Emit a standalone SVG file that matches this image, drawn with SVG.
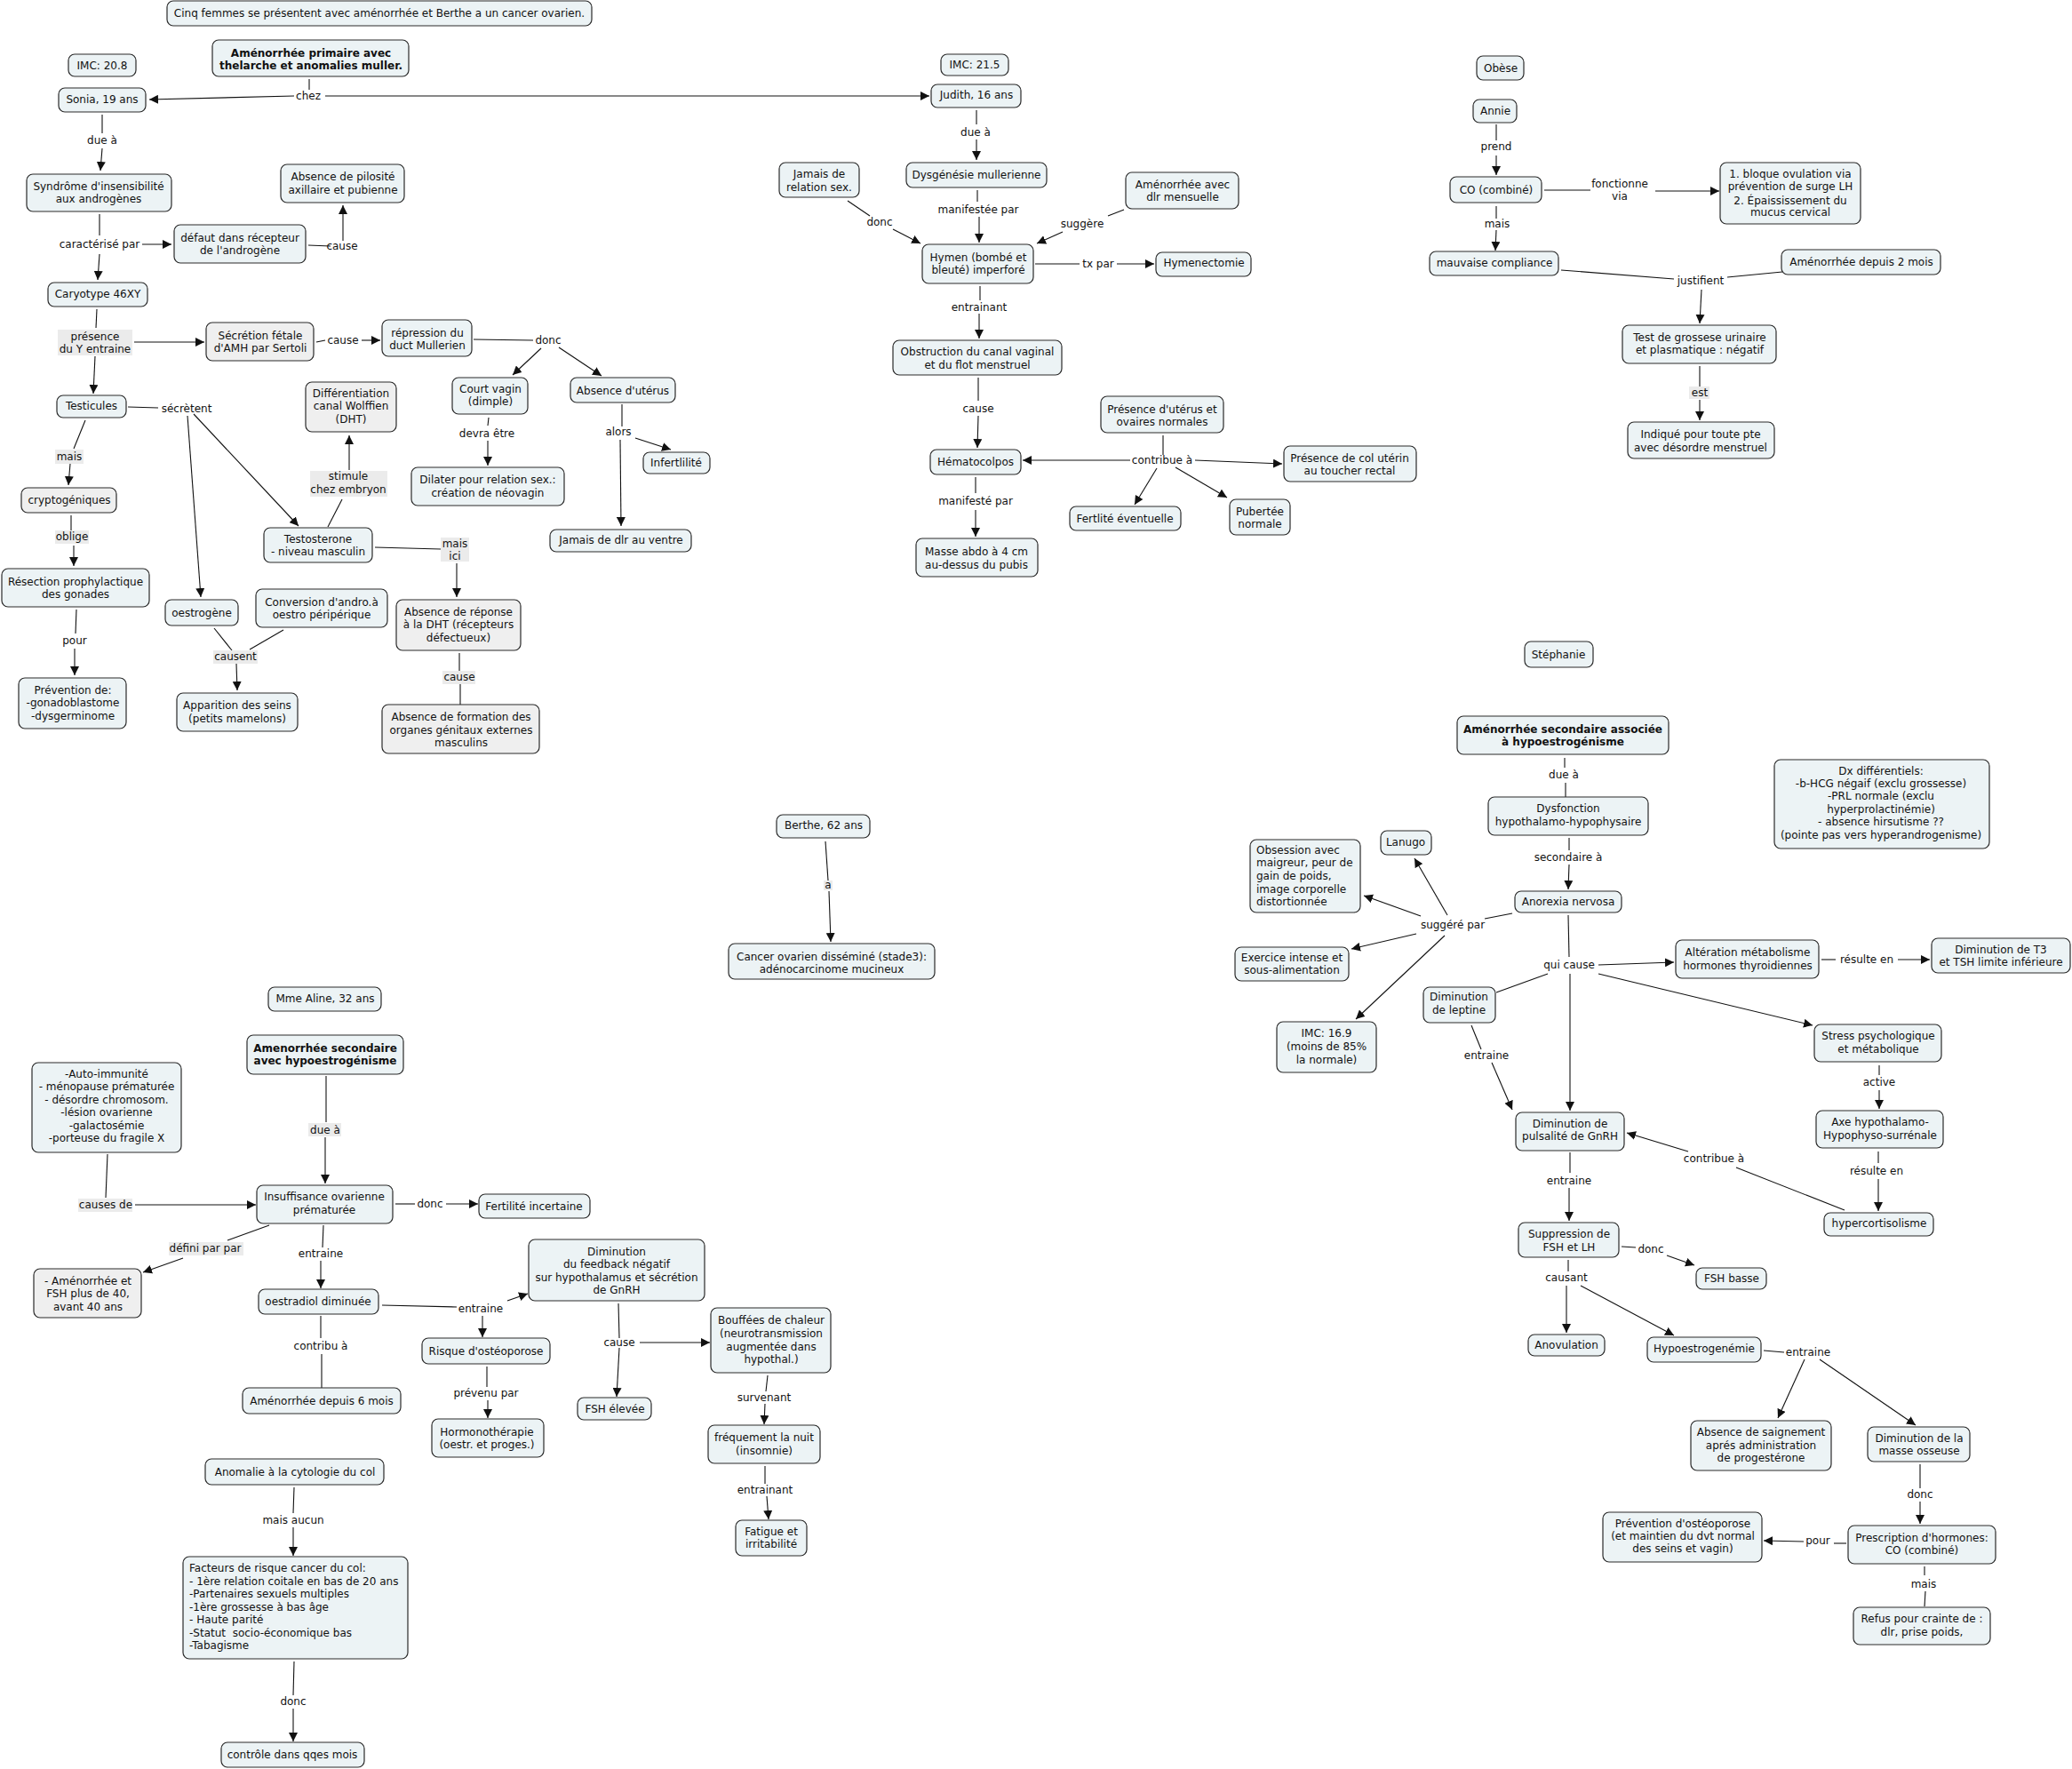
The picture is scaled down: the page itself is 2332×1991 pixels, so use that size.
<svg xmlns="http://www.w3.org/2000/svg" width="2332" height="1991" viewBox="0 0 2332 1991">
<defs>
<marker id="ah" markerUnits="userSpaceOnUse" markerWidth="10" markerHeight="10" viewBox="0 0 10 10" refX="10" refY="5" orient="auto"><path d="M0,0 L10,5 L0,10 z" fill="#111"/></marker>
<style>
.n rect{fill:#ecf3f5;stroke:#2a2a2a;stroke-width:1.2}
.n.g rect{fill:#efefef}
text{font-family:"DejaVu Sans",Verdana,"Liberation Sans",sans-serif;font-size:12px;fill:#111;text-anchor:middle}
.b{font-weight:bold}
.l{text-anchor:start}
.lbg{fill:#ebebeb;stroke:none}
#connectors path{stroke:#111;stroke-width:1.1;fill:none}
#connectors path.a{marker-end:url(#ah)}
</style>
</defs>
<rect width="2332" height="1991" fill="#fff"/>

<g id="connectors">
<path d="M348,89 L348,101"/><path class="a" d="M331,108 L168,112"/><path class="a" d="M366,108 L1046,108"/>
<path d="M115,129 L115,150"/><path class="a" d="M115,167 L113,192"/>
<path d="M112,241 L112,265"/><path class="a" d="M160,275 L193,275"/><path class="a" d="M112,286 L110,315"/>
<path d="M347,276 L372,277"/><path class="a" d="M386,271 L386,231"/>
<path d="M109,348 L108,369"/><path class="a" d="M151,385 L230,385"/><path class="a" d="M107,401 L105,443"/>
<path d="M356,385 L366,383"/><path class="a" d="M407,383 L428,383"/>
<path d="M533,382 L600,383"/><path class="a" d="M609,392 L577,422"/><path class="a" d="M629,391 L677,423"/>
<path d="M550,470 L549,479"/><path class="a" d="M549,496 L549,524"/>
<path d="M700,455 L700,480"/><path class="a" d="M715,493 L755,506"/><path class="a" d="M698,495 L699,592"/>
<path class="a" d="M393,529 L393,490"/><path d="M385,562 L369,593"/>
<path d="M144,458 L178,459"/><path class="a" d="M211,468 L226,672"/><path class="a" d="M218,466 L336,592"/>
<path d="M96,473 L83,505"/><path class="a" d="M79,522 L77,546"/>
<path d="M80,580 L80,597"/><path class="a" d="M83,614 L83,637"/>
<path d="M86,686 L85,713"/><path class="a" d="M84,730 L84,760"/>
<path d="M241,707 L261,732"/><path d="M319,709 L281,731"/><path class="a" d="M266,747 L267,777"/>
<path d="M422,616 L496,618"/><path class="a" d="M514,634 L514,672"/>
<path d="M517,735 L517,756"/><path d="M518,769 L518,793"/>

<path d="M1099,124 L1099,140"/><path class="a" d="M1099,157 L1099,180"/>
<path d="M954,226 L979,243"/><path class="a" d="M1005,258 L1036,274"/>
<path d="M1100,214 L1100,227"/><path class="a" d="M1102,244 L1102,273"/>
<path d="M1265,236 L1247,243"/><path class="a" d="M1196,261 L1167,274"/>
<path d="M1165,297 L1215,297"/><path class="a" d="M1257,297 L1299,297"/>
<path d="M1103,322 L1103,338"/><path class="a" d="M1102,353 L1102,381"/>
<path d="M1101,425 L1101,451"/><path class="a" d="M1101,468 L1100,504"/>
<path d="M1309,490 L1309,512"/><path class="a" d="M1272,518 L1151,518"/><path class="a" d="M1345,518 L1443,522"/><path class="a" d="M1302,527 L1277,568"/><path class="a" d="M1323,526 L1381,560"/>
<path d="M1098,537 L1098,555"/><path class="a" d="M1098,574 L1098,604"/>

<path d="M1684,140 L1684,158"/><path class="a" d="M1684,175 L1684,197"/>
<path d="M1738,214 L1790,214"/><path class="a" d="M1863,215 L1935,215"/>
<path d="M1684,232 L1684,246"/><path class="a" d="M1684,259 L1683,282"/>
<path d="M1757,304 L1884,314"/><path d="M2006,306 L1944,312"/><path class="a" d="M1915,326 L1913,364"/>
<path d="M1913,412 L1913,435"/><path class="a" d="M1913,450 L1913,473"/>

<path d="M929,947 L932,991"/><path class="a" d="M933,1003 L935,1060"/>

<path d="M1761,853 L1761,864"/><path d="M1762,881 L1762,897"/>
<path d="M1766,943 L1766,957"/><path class="a" d="M1766,973 L1765,1001"/>
<path d="M1702,1028 L1671,1034"/><path class="a" d="M1629,1030 L1592,966"/><path class="a" d="M1599,1031 L1535,1008"/><path class="a" d="M1594,1051 L1521,1068"/><path class="a" d="M1626,1053 L1526,1147"/>
<path d="M1765,1030 L1766,1077"/><path class="a" d="M1767,1096 L1767,1250"/><path class="a" d="M1799,1086 L1884,1083"/><path d="M1742,1096 L1684,1117"/><path class="a" d="M1799,1096 L2040,1154"/>
<path d="M2050,1080 L2066,1080"/><path class="a" d="M2136,1080 L2172,1080"/>
<path d="M1656,1154 L1667,1181"/><path class="a" d="M1679,1196 L1702,1249"/>
<path d="M2115,1199 L2115,1210"/><path class="a" d="M2115,1227 L2115,1248"/>
<path d="M2114,1296 L2114,1309"/><path class="a" d="M2114,1327 L2114,1363"/>
<path d="M2076,1362 L1954,1314"/><path class="a" d="M1900,1296 L1831,1275"/>
<path d="M1767,1297 L1767,1320"/><path class="a" d="M1766,1337 L1766,1374"/>
<path d="M1825,1403 L1841,1404"/><path class="a" d="M1876,1413 L1907,1424"/>
<path d="M1765,1418 L1765,1431"/><path class="a" d="M1763,1447 L1763,1500"/><path class="a" d="M1779,1447 L1884,1503"/>
<path d="M1985,1520 L2008,1522"/><path class="a" d="M2031,1530 L2001,1596"/><path class="a" d="M2048,1530 L2156,1604"/>
<path d="M2161,1648 L2161,1675"/><path class="a" d="M2161,1690 L2161,1715"/>
<path d="M2078,1737 L2064,1737"/><path class="a" d="M2030,1735 L1985,1734"/>
<path d="M2166,1763 L2166,1773"/><path d="M2167,1791 L2166,1808"/>

<path d="M367,1211 L367,1263"/><path class="a" d="M366,1280 L366,1332"/>
<path d="M121,1299 L119,1348"/><path class="a" d="M152,1356 L288,1356"/>
<path d="M445,1355 L467,1355"/><path class="a" d="M502,1355 L538,1355"/>
<path d="M303,1379 L256,1396"/><path class="a" d="M206,1416 L161,1432"/>
<path d="M364,1379 L363,1404"/><path class="a" d="M361,1419 L361,1450"/>
<path d="M430,1469 L514,1471"/><path class="a" d="M571,1464 L594,1456"/><path class="a" d="M543,1481 L543,1505"/>
<path d="M361,1481 L361,1506"/><path d="M362,1524 L362,1562"/>
<path d="M548,1538 L548,1561"/><path class="a" d="M549,1576 L549,1596"/>
<path d="M696,1467 L697,1506"/><path class="a" d="M697,1517 L694,1572"/><path class="a" d="M720,1511 L799,1511"/>
<path d="M864,1548 L862,1566"/><path class="a" d="M861,1580 L860,1603"/>
<path d="M861,1650 L861,1670"/><path class="a" d="M863,1684 L865,1710"/>
<path d="M331,1674 L330,1703"/><path class="a" d="M330,1719 L330,1751"/>
<path d="M331,1870 L330,1908"/><path class="a" d="M330,1923 L330,1960"/>

<g id="labels">
<text x="347" y="112">chez</text>
<text x="115" y="162">due à</text>
<text x="112" y="279">caractérisé par</text>
<text x="385" y="281">cause</text>
<rect class="lbg" x="65" y="371" width="84" height="29"/><text x="107" y="383">présence</text><text x="107" y="397">du Y entraine</text>
<text x="386" y="387">cause</text>
<text x="617" y="387">donc</text>
<text x="548" y="492">devra être</text>
<text x="696" y="490">alors</text>
<rect class="lbg" x="349" y="530" width="87" height="29"/><text x="392" y="540">stimule</text><text x="392" y="555">chez embryon</text>
<text x="210" y="464">sécrètent</text>
<rect class="lbg" x="62" y="506" width="32" height="16"/><text x="78" y="518">mais</text>
<rect class="lbg" x="62" y="597" width="38" height="15"/><text x="81" y="608">oblige</text>
<text x="84" y="725">pour</text>
<rect class="lbg" x="240" y="732" width="50" height="15"/><text x="265" y="743">causent</text>
<rect class="lbg" x="496" y="605" width="32" height="27"/><text x="512" y="616">mais</text><text x="512" y="630">ici</text>
<rect class="lbg" x="498" y="755" width="37" height="15"/><text x="517" y="766">cause</text>

<text x="1098" y="153">due à</text>
<text x="990" y="254">donc</text>
<text x="1101" y="240">manifestée par</text>
<text x="1218" y="256">suggère</text>
<text x="1236" y="301">tx par</text>
<text x="1102" y="350">entrainant</text>
<text x="1101" y="464">cause</text>
<text x="1308" y="522">contribue à</text>
<text x="1098" y="568">manifesté par</text>

<text x="1684" y="169">prend</text>
<text x="1823" y="211">fonctionne</text><text x="1823" y="225">via</text>
<text x="1685" y="256">mais</text>
<text x="1914" y="320">justifient</text>
<rect class="lbg" x="1901" y="435" width="23" height="14"/><text x="1913" y="446">est</text>

<rect class="lbg" x="927" y="991" width="10" height="11"/><text x="932" y="1000">a</text>

<text x="1760" y="876">due à</text>
<text x="1765" y="969">secondaire à</text>
<text x="1635" y="1045">suggéré par</text>
<text x="1766" y="1090">qui cause</text>
<text x="2101" y="1084">résulte en</text>
<text x="1673" y="1192">entraine</text>
<text x="2115" y="1222">active</text>
<text x="2112" y="1322">résulte en</text>
<text x="1929" y="1308">contribue à</text>
<text x="1766" y="1333">entraine</text>
<text x="1858" y="1410">donc</text>
<text x="1763" y="1442">causant</text>
<text x="2035" y="1526">entraine</text>
<text x="2161" y="1686">donc</text>
<text x="2046" y="1738">pour</text>
<text x="2165" y="1787">mais</text>

<rect class="lbg" x="347" y="1264" width="37" height="15"/><text x="366" y="1276">due à</text>
<rect class="lbg" x="88" y="1349" width="61" height="15"/><text x="119" y="1360">causes de</text>
<text x="484" y="1359">donc</text>
<rect class="lbg" x="190" y="1398" width="84" height="15"/><text x="231" y="1409">défini par par</text>
<text x="361" y="1415">entraine</text>
<text x="541" y="1477">entraine</text>
<text x="361" y="1519">contribu à</text>
<text x="547" y="1572">prévenu par</text>
<text x="697" y="1515">cause</text>
<text x="860" y="1577">survenant</text>
<text x="861" y="1681">entrainant</text>
<text x="330" y="1715">mais aucun</text>
<text x="330" y="1919">donc</text>
</g>
</g>

<g id="nodes">
<g id="title" class="n"><rect x="188" y="1" width="478" height="28" rx="7"/><text x="427" y="19">Cinq femmes se présentent avec aménorrhée et Berthe a un cancer ovarien.</text></g>
<g id="imc208" class="n"><rect x="77" y="61" width="76" height="25" rx="7"/><text x="115" y="78">IMC: 20.8</text></g>
<g id="amenoPrim" class="n"><rect x="239" y="45" width="221" height="41" rx="7"/><text class="b" x="350" y="64">Aménorrhée primaire avec</text><text class="b" x="350" y="78">thelarche et anomalies muller.</text></g>
<g id="sonia" class="n"><rect x="66" y="99" width="98" height="27" rx="7"/><text x="115" y="116">Sonia, 19 ans</text></g>
<g id="syndrome" class="n"><rect x="30" y="196" width="163" height="42" rx="7"/><text x="111" y="214">Syndrôme d'insensibilité</text><text x="111" y="228">aux androgènes</text></g>
<g id="defaut" class="n"><rect x="196" y="253" width="148" height="43" rx="7"/><text x="270" y="272">défaut dans récepteur</text><text x="270" y="286">de l'androgène</text></g>
<g id="pilosite" class="n"><rect x="316" y="185" width="139" height="43" rx="7"/><text x="386" y="203">Absence de pilosité</text><text x="386" y="218">axillaire et pubienne</text></g>
<g id="caryotype" class="n"><rect x="54" y="318" width="112" height="27" rx="7"/><text x="110" y="335">Caryotype 46XY</text></g>
<g id="secretion" class="n g"><rect x="232" y="363" width="121" height="43" rx="7"/><text x="293" y="382">Sécrétion fétale</text><text x="293" y="396">d'AMH par Sertoli</text></g>
<g id="repression" class="n"><rect x="430" y="360" width="101" height="41" rx="7"/><text x="481" y="379">répression du</text><text x="481" y="393">duct Mullerien</text></g>
<g id="courtVagin" class="n"><rect x="509" y="425" width="85" height="41" rx="7"/><text x="552" y="442">Court vagin</text><text x="552" y="456">(dimple)</text></g>
<g id="absUterus" class="n"><rect x="642" y="425" width="118" height="28" rx="7"/><text x="701" y="444">Absence d'utérus</text></g>
<g id="dilater" class="n"><rect x="463" y="526" width="172" height="43" rx="7"/><text x="549" y="544">Dilater pour relation sex.:</text><text x="549" y="559">création de néovagin</text></g>
<g id="infertilite" class="n"><rect x="724" y="509" width="75" height="24" rx="7"/><text x="761" y="525">Infertlilité</text></g>
<g id="jamaisDlr" class="n"><rect x="619" y="596" width="159" height="25" rx="7"/><text x="699" y="612">Jamais de dlr au ventre</text></g>
<g id="differentiation" class="n g"><rect x="344" y="430" width="102" height="56" rx="7"/><text x="395" y="447">Différentiation</text><text x="395" y="461">canal Wolffien</text><text x="395" y="476">(DHT)</text></g>
<g id="testicules" class="n"><rect x="64" y="445" width="78" height="25" rx="7"/><text x="103" y="461">Testicules</text></g>
<g id="cryptogeniques" class="n g"><rect x="24" y="549" width="107" height="28" rx="7"/><text x="78" y="567">cryptogéniques</text></g>
<g id="resection" class="n"><rect x="2" y="640" width="166" height="43" rx="7"/><text x="85" y="659">Résection prophylactique</text><text x="85" y="673">des gonades</text></g>
<g id="prevention" class="n"><rect x="21" y="763" width="121" height="57" rx="7"/><text x="82" y="781">Prévention de:</text><text x="82" y="795">-gonadoblastome</text><text x="82" y="810">-dysgerminome</text></g>
<g id="oestrogene" class="n"><rect x="186" y="675" width="82" height="29" rx="7"/><text x="227" y="694">oestrogène</text></g>
<g id="conversion" class="n"><rect x="288" y="663" width="148" height="43" rx="7"/><text x="362" y="682">Conversion d'andro.à</text><text x="362" y="696">oestro péripérique</text></g>
<g id="apparition" class="n"><rect x="199" y="780" width="136" height="43" rx="7"/><text x="267" y="798">Apparition des seins</text><text x="267" y="813">(petits mamelons)</text></g>
<g id="testosterone" class="n"><rect x="297" y="594" width="122" height="39" rx="7"/><text x="358" y="611">Testosterone</text><text x="358" y="625">- niveau masculin</text></g>
<g id="absReponse" class="n g"><rect x="446" y="675" width="140" height="57" rx="7"/><text x="516" y="693">Absence de réponse</text><text x="516" y="707">à la DHT (récepteurs</text><text x="516" y="722">défectueux)</text></g>
<g id="absFormation" class="n g"><rect x="430" y="793" width="177" height="55" rx="7"/><text x="519" y="811">Absence de formation des</text><text x="519" y="826">organes génitaux externes</text><text x="519" y="840">masculins</text></g>

<g id="imc215" class="n"><rect x="1059" y="61" width="76" height="24" rx="7"/><text x="1097" y="77">IMC: 21.5</text></g>
<g id="judith" class="n"><rect x="1048" y="95" width="101" height="26" rx="7"/><text x="1099" y="111">Judith, 16 ans</text></g>
<g id="dysgenesie" class="n"><rect x="1020" y="183" width="158" height="28" rx="7"/><text x="1099" y="201">Dysgénésie mullerienne</text></g>
<g id="jamaisRel" class="n"><rect x="877" y="183" width="90" height="39" rx="7"/><text x="922" y="200">Jamais de</text><text x="922" y="215">relation sex.</text></g>
<g id="amenoDlr" class="n"><rect x="1267" y="194" width="127" height="41" rx="7"/><text x="1331" y="212">Aménorrhée avec</text><text x="1331" y="226">dlr mensuelle</text></g>
<g id="hymen" class="n"><rect x="1038" y="275" width="125" height="44" rx="7"/><text x="1101" y="294">Hymen (bombé et</text><text x="1101" y="308">bleuté) imperforé</text></g>
<g id="hymenectomie" class="n"><rect x="1301" y="284" width="107" height="27" rx="7"/><text x="1355" y="300">Hymenectomie</text></g>
<g id="obstruction" class="n"><rect x="1005" y="383" width="190" height="39" rx="7"/><text x="1100" y="400">Obstruction du canal vaginal</text><text x="1100" y="415">et du flot menstruel</text></g>
<g id="hematocolpos" class="n"><rect x="1047" y="506" width="102" height="28" rx="7"/><text x="1098" y="524">Hématocolpos</text></g>
<g id="presUterus" class="n"><rect x="1239" y="446" width="138" height="41" rx="7"/><text x="1308" y="465">Présence d'utérus et</text><text x="1308" y="479">ovaires normales</text></g>
<g id="presCol" class="n"><rect x="1445" y="502" width="149" height="40" rx="7"/><text x="1519" y="520">Présence de col utérin</text><text x="1519" y="534">au toucher rectal</text></g>
<g id="fertlite" class="n"><rect x="1204" y="570" width="125" height="27" rx="7"/><text x="1266" y="588">Fertlité éventuelle</text></g>
<g id="puberte" class="n"><rect x="1384" y="562" width="68" height="40" rx="7"/><text x="1418" y="580">Pubertée</text><text x="1418" y="594">normale</text></g>
<g id="masse" class="n"><rect x="1031" y="606" width="137" height="43" rx="7"/><text x="1099" y="625">Masse abdo à 4 cm</text><text x="1099" y="640">au-dessus du pubis</text></g>

<g id="obese" class="n"><rect x="1662" y="63" width="53" height="27" rx="7"/><text x="1689" y="81">Obèse</text></g>
<g id="annie" class="n"><rect x="1658" y="112" width="49" height="26" rx="7"/><text x="1683" y="129">Annie</text></g>
<g id="co" class="n"><rect x="1632" y="199" width="103" height="29" rx="7"/><text x="1684" y="218">CO (combiné)</text></g>
<g id="bloque" class="n"><rect x="1936" y="183" width="158" height="69" rx="7"/><text x="2015" y="200">1. bloque ovulation via</text><text x="2015" y="214">prévention de surge LH</text><text x="2015" y="230">2. Épaississement du</text><text x="2015" y="243">mucus cervical</text></g>
<g id="mauvaise" class="n"><rect x="1609" y="283" width="145" height="27" rx="7"/><text x="1682" y="300">mauvaise compliance</text></g>
<g id="ameno2mois" class="n"><rect x="2005" y="281" width="179" height="28" rx="7"/><text x="2095" y="299">Aménorrhée depuis 2 mois</text></g>
<g id="test" class="n"><rect x="1826" y="366" width="173" height="43" rx="7"/><text x="1913" y="384">Test de grossese urinaire</text><text x="1913" y="398">et plasmatique : négatif</text></g>
<g id="indique" class="n"><rect x="1832" y="475" width="165" height="41" rx="7"/><text x="1914" y="493">Indiqué pour toute pte</text><text x="1914" y="508">avec désordre menstruel</text></g>

<g id="berthe" class="n"><rect x="874" y="917" width="105" height="26" rx="7"/><text x="927" y="933">Berthe, 62 ans</text></g>
<g id="cancer" class="n"><rect x="820" y="1062" width="232" height="40" rx="7"/><text x="936" y="1081">Cancer ovarien disséminé (stade3):</text><text x="936" y="1095">adénocarcinome mucineux</text></g>

<g id="stephanie" class="n"><rect x="1716" y="722" width="77" height="29" rx="7"/><text x="1754" y="741">Stéphanie</text></g>
<g id="amenoSec" class="n"><rect x="1640" y="806" width="238" height="43" rx="7"/><text class="b" x="1759" y="825">Aménorrhée secondaire associée</text><text class="b" x="1759" y="839">à hypoestrogénisme</text></g>
<g id="dysfonction" class="n"><rect x="1675" y="897" width="180" height="43" rx="7"/><text x="1765" y="914">Dysfonction</text><text x="1765" y="929">hypothalamo-hypophysaire</text></g>
<g id="anorexia" class="n"><rect x="1705" y="1003" width="120" height="24" rx="7"/><text x="1765" y="1019">Anorexia nervosa</text></g>
<g id="lanugo" class="n"><rect x="1554" y="935" width="57" height="27" rx="7"/><text x="1582" y="952">Lanugo</text></g>
<g id="obsession" class="n"><rect x="1407" y="945" width="124" height="82" rx="7"/><text class="l" x="1414" y="961">Obsession avec</text><text class="l" x="1414" y="975">maigreur, peur de</text><text class="l" x="1414" y="990">gain de poids,</text><text class="l" x="1414" y="1005">image corporelle</text><text class="l" x="1414" y="1019">distortionnée</text></g>
<g id="exercice" class="n"><rect x="1390" y="1066" width="128" height="38" rx="7"/><text x="1454" y="1082">Exercice intense et</text><text x="1454" y="1096">sous-alimentation</text></g>
<g id="imc169" class="n"><rect x="1437" y="1150" width="112" height="57" rx="7"/><text x="1493" y="1167">IMC: 16.9</text><text x="1493" y="1182">(moins de 85%</text><text x="1493" y="1197">la normale)</text></g>
<g id="alteration" class="n"><rect x="1886" y="1058" width="161" height="43" rx="7"/><text x="1967" y="1076">Altération métabolisme</text><text x="1967" y="1091">hormones thyroidiennes</text></g>
<g id="t3" class="n"><rect x="2174" y="1056" width="156" height="39" rx="7"/><text x="2252" y="1073">Diminution de T3</text><text x="2252" y="1087">et TSH limite inférieure</text></g>
<g id="dx" class="n"><rect x="1997" y="855" width="242" height="100" rx="7"/><text x="2117" y="872">Dx différentiels:</text><text x="2117" y="886">-b-HCG négaif (exclu grossesse)</text><text x="2117" y="900">-PRL normale (exclu</text><text x="2117" y="915">hyperprolactinémie)</text><text x="2117" y="929">- absence hirsutisme ??</text><text x="2117" y="944">(pointe pas vers hyperandrogenisme)</text></g>
<g id="leptine" class="n"><rect x="1602" y="1111" width="81" height="40" rx="7"/><text x="1642" y="1126">Diminution</text><text x="1642" y="1141">de leptine</text></g>
<g id="stress" class="n"><rect x="2042" y="1153" width="143" height="42" rx="7"/><text x="2114" y="1170">Stress psychologique</text><text x="2114" y="1185">et métabolique</text></g>
<g id="axe" class="n"><rect x="2044" y="1250" width="143" height="42" rx="7"/><text x="2116" y="1267">Axe hypothalamo-</text><text x="2116" y="1282">Hypophyso-surrénale</text></g>
<g id="hypercort" class="n"><rect x="2053" y="1365" width="123" height="26" rx="7"/><text x="2115" y="1381">hypercortisolisme</text></g>
<g id="gnrh" class="n"><rect x="1706" y="1252" width="122" height="43" rx="7"/><text x="1767" y="1269">Diminution de</text><text x="1767" y="1283">pulsalité de GnRH</text></g>
<g id="suppression" class="n"><rect x="1709" y="1376" width="113" height="39" rx="7"/><text x="1766" y="1393">Suppression de</text><text x="1766" y="1408">FSH et LH</text></g>
<g id="fshBasse" class="n"><rect x="1909" y="1427" width="79" height="24" rx="7"/><text x="1949" y="1443">FSH basse</text></g>
<g id="anovulation" class="n"><rect x="1720" y="1502" width="86" height="24" rx="7"/><text x="1763" y="1518">Anovulation</text></g>
<g id="hypoestro" class="n"><rect x="1854" y="1505" width="128" height="28" rx="7"/><text x="1918" y="1522">Hypoestrogenémie</text></g>
<g id="absSaign" class="n"><rect x="1903" y="1599" width="158" height="56" rx="7"/><text x="1982" y="1616">Absence de saignement</text><text x="1982" y="1631">aprés administration</text><text x="1982" y="1645">de progestérone</text></g>
<g id="dimMasse" class="n"><rect x="2102" y="1606" width="115" height="39" rx="7"/><text x="2160" y="1623">Diminution de la</text><text x="2160" y="1637">masse osseuse</text></g>
<g id="prescription" class="n"><rect x="2080" y="1717" width="166" height="43" rx="7"/><text x="2163" y="1735">Prescription d'hormones:</text><text x="2163" y="1749">CO (combiné)</text></g>
<g id="prevOsteo" class="n"><rect x="1804" y="1702" width="179" height="56" rx="7"/><text x="1894" y="1719">Prévention d'ostéoporose</text><text x="1894" y="1733">(et maintien du dvt normal</text><text x="1894" y="1747">des seins et vagin)</text></g>
<g id="refus" class="n"><rect x="2086" y="1809" width="154" height="42" rx="7"/><text x="2163" y="1826">Refus pour crainte de :</text><text x="2163" y="1841">dlr, prise poids,</text></g>

<g id="aline" class="n"><rect x="302" y="1111" width="127" height="27" rx="7"/><text x="366" y="1128">Mme Aline, 32 ans</text></g>
<g id="amenoSecAline" class="n"><rect x="278" y="1165" width="176" height="44" rx="7"/><text class="b" x="366" y="1184">Amenorrhée secondaire</text><text class="b" x="366" y="1198">avec hypoestrogénisme</text></g>
<g id="causesList" class="n"><rect x="36" y="1196" width="168" height="101" rx="7"/><text x="120" y="1213">-Auto-immunité</text><text x="120" y="1227">- ménopause prématurée</text><text x="120" y="1242">- désordre chromosom.</text><text x="120" y="1256">-lésion ovarienne</text><text x="120" y="1271">-galactosémie</text><text x="120" y="1285">-porteuse du fragile X</text></g>
<g id="insuffisance" class="n"><rect x="289" y="1334" width="153" height="43" rx="7"/><text x="365" y="1351">Insuffisance ovarienne</text><text x="365" y="1366">prématurée</text></g>
<g id="fertInc" class="n"><rect x="539" y="1344" width="125" height="27" rx="7"/><text x="601" y="1362">Fertilité incertaine</text></g>
<g id="amenoFSH" class="n g"><rect x="38" y="1428" width="121" height="55" rx="7"/><text x="99" y="1446">- Aménorrhée et</text><text x="99" y="1460">FSH plus de 40,</text><text x="99" y="1475">avant 40 ans</text></g>
<g id="oestradiol" class="n"><rect x="291" y="1451" width="135" height="28" rx="7"/><text x="358" y="1469">oestradiol diminuée</text></g>
<g id="feedback" class="n"><rect x="595" y="1395" width="198" height="69" rx="7"/><text x="694" y="1413">Diminution</text><text x="694" y="1427">du feedback négatif</text><text x="694" y="1442">sur hypothalamus et sécrétion</text><text x="694" y="1456">de GnRH</text></g>
<g id="risque" class="n"><rect x="475" y="1506" width="144" height="29" rx="7"/><text x="547" y="1525">Risque d'ostéoporose</text></g>
<g id="ameno6" class="n"><rect x="273" y="1562" width="178" height="29" rx="7"/><text x="362" y="1581">Aménorrhée depuis 6 mois</text></g>
<g id="hormono" class="n"><rect x="486" y="1597" width="126" height="43" rx="7"/><text x="548" y="1616">Hormonothérapie</text><text x="548" y="1630">(oestr. et proges.)</text></g>
<g id="fshElevee" class="n"><rect x="650" y="1573" width="83" height="25" rx="7"/><text x="692" y="1590">FSH élevée</text></g>
<g id="bouffees" class="n"><rect x="800" y="1472" width="135" height="73" rx="7"/><text x="868" y="1490">Bouffées de chaleur</text><text x="868" y="1505">(neurotransmission</text><text x="868" y="1520">augmentée dans</text><text x="868" y="1534">hypothal.)</text></g>
<g id="frequement" class="n"><rect x="797" y="1604" width="126" height="43" rx="7"/><text x="860" y="1622">fréquement la nuit</text><text x="860" y="1637">(insomnie)</text></g>
<g id="fatigue" class="n"><rect x="828" y="1711" width="80" height="40" rx="7"/><text x="868" y="1728">Fatigue et</text><text x="868" y="1742">irritabilité</text></g>
<g id="anomalie" class="n"><rect x="231" y="1642" width="201" height="29" rx="7"/><text x="332" y="1661">Anomalie à la cytologie du col</text></g>
<g id="facteurs" class="n"><rect x="206" y="1752" width="253" height="115" rx="7"/><text class="l" x="213" y="1769">Facteurs de risque cancer du col:</text><text class="l" x="213" y="1784">- 1ère relation coitale en bas de 20 ans</text><text class="l" x="213" y="1798">-Partenaires sexuels multiples</text><text class="l" x="213" y="1813">-1ère grossesse à bas âge</text><text class="l" x="213" y="1827">- Haute parité</text><text class="l" x="213" y="1842" xml:space="preserve">-Statut  socio-économique bas</text><text class="l" x="213" y="1856">-Tabagisme</text></g>
<g id="controle" class="n"><rect x="249" y="1961" width="161" height="28" rx="7"/><text x="329" y="1979">contrôle dans qqes mois</text></g>
</g>
</svg>
